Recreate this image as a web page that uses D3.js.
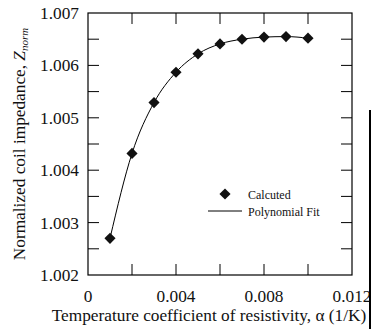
<!DOCTYPE html>
<html><head><meta charset="utf-8">
<script src="https://cdn.jsdelivr.net/npm/d3@7"></script>
</head><body style="margin:0;background:#fff">
<script>
const alphaValues = [0.001,0.002,0.003,0.004,0.005,0.006,0.007,0.008,0.009,0.010];
const zNorm = [1.0027,1.00432,1.00529,1.00587,1.00622,1.00641,1.0065,1.00654,1.00655,1.00652];
const xTickLabels = [0,0.004,0.008,0.012];
const xTicks = [0.002,0.004,0.006,0.008,0.010];
const yTickLabels = [1.002,1.003,1.004,1.005,1.006,1.007];
const yTicks = [1.0025,1.003,1.0035,1.004,1.0045,1.005,1.0055,1.006,1.0065];
const legendLabels = ["Calcuted","Polynomial Fit"];

const FF="Liberation Serif";
const FS=17.3;
const W=371,H=329;
const svg=d3.select("body").append("svg").attr("width",W).attr("height",H).style("display","block");
const L=88,R=352,T=13,B=275;
const x=d3.scaleLinear().domain([0,0.012]).range([L,R]);
const y=d3.scaleLinear().domain([1.002,1.007]).range([B,T]);

svg.append("rect").attr("x",L).attr("y",T).attr("width",R-L).attr("height",B-T)
  .attr("fill","none").attr("stroke","#000").attr("stroke-width",1.2);

const tl=11;
xTicks.forEach(v=>{
  svg.append("line").attr("x1",x(v)).attr("x2",x(v)).attr("y1",B).attr("y2",B-tl).attr("stroke","#000");
  svg.append("line").attr("x1",x(v)).attr("x2",x(v)).attr("y1",T).attr("y2",T+tl).attr("stroke","#000");
});
yTicks.forEach(v=>{
  svg.append("line").attr("x1",L).attr("x2",L+tl).attr("y1",y(v)).attr("y2",y(v)).attr("stroke","#000");
  svg.append("line").attr("x1",R).attr("x2",R-tl).attr("y1",y(v)).attr("y2",y(v)).attr("stroke","#000");
});

xTickLabels.forEach(v=>{
  svg.append("text").style("font-family",FF).attr("x",x(v)).attr("y",302).attr("text-anchor","middle")
    .attr("font-size",FS).attr("fill","#111").text(v===0?"0":d3.format(".3f")(v));
});
yTickLabels.forEach(v=>{
  svg.append("text").style("font-family",FF).attr("x",79).attr("y",y(v)).attr("dy","0.35em").attr("text-anchor","end")
    .attr("font-size",FS).attr("fill","#111").text(d3.format(".3f")(v));
});

svg.append("text").style("font-family",FF).attr("x",209).attr("y",321).attr("text-anchor","middle").attr("font-size",FS).attr("fill","#111")
  .text("Temperature coefficient of resistivity, \u03B1 (1/K)");

const yl=svg.append("text").style("font-family",FF).attr("transform","translate(25,144) rotate(-90)").attr("text-anchor","middle").attr("font-size",FS).attr("fill","#111");
yl.append("tspan").text("Normalized coil impedance, ");
yl.append("tspan").attr("font-style","italic").text("Z");
yl.append("tspan").attr("font-style","italic").attr("font-size",11).attr("dy",3).text("norm");

const pts=alphaValues.map((a,i)=>[a,zNorm[i]]);
svg.append("path").attr("d",d3.line().x(d=>x(d[0])).y(d=>y(d[1])).curve(d3.curveMonotoneX)(pts))
  .attr("fill","none").attr("stroke","#000").attr("stroke-width",1);

const sym=d3.symbol(d3.symbolSquare,62);
svg.selectAll(".pt").data(pts).enter().append("path")
  .attr("d",sym).attr("transform",d=>`translate(${x(d[0])},${y(d[1])}) rotate(45)`).attr("fill","#111");

svg.append("path").attr("d",sym).attr("transform","translate(225,194) rotate(45)").attr("fill","#111");
svg.append("text").style("font-family",FF).attr("x",248).attr("y",198.5).attr("font-size",12).attr("fill","#111").text(legendLabels[0]);
svg.append("line").attr("x1",208).attr("x2",242).attr("y1",211).attr("y2",211).attr("stroke","#000");
svg.append("text").style("font-family",FF).attr("x",248).attr("y",215.5).attr("font-size",12).attr("fill","#111").text(legendLabels[1]);

svg.append("line").attr("x1",370).attr("x2",370).attr("y1",110).attr("y2",329).attr("stroke","#000").attr("stroke-width",2);
</script>
</body></html>
